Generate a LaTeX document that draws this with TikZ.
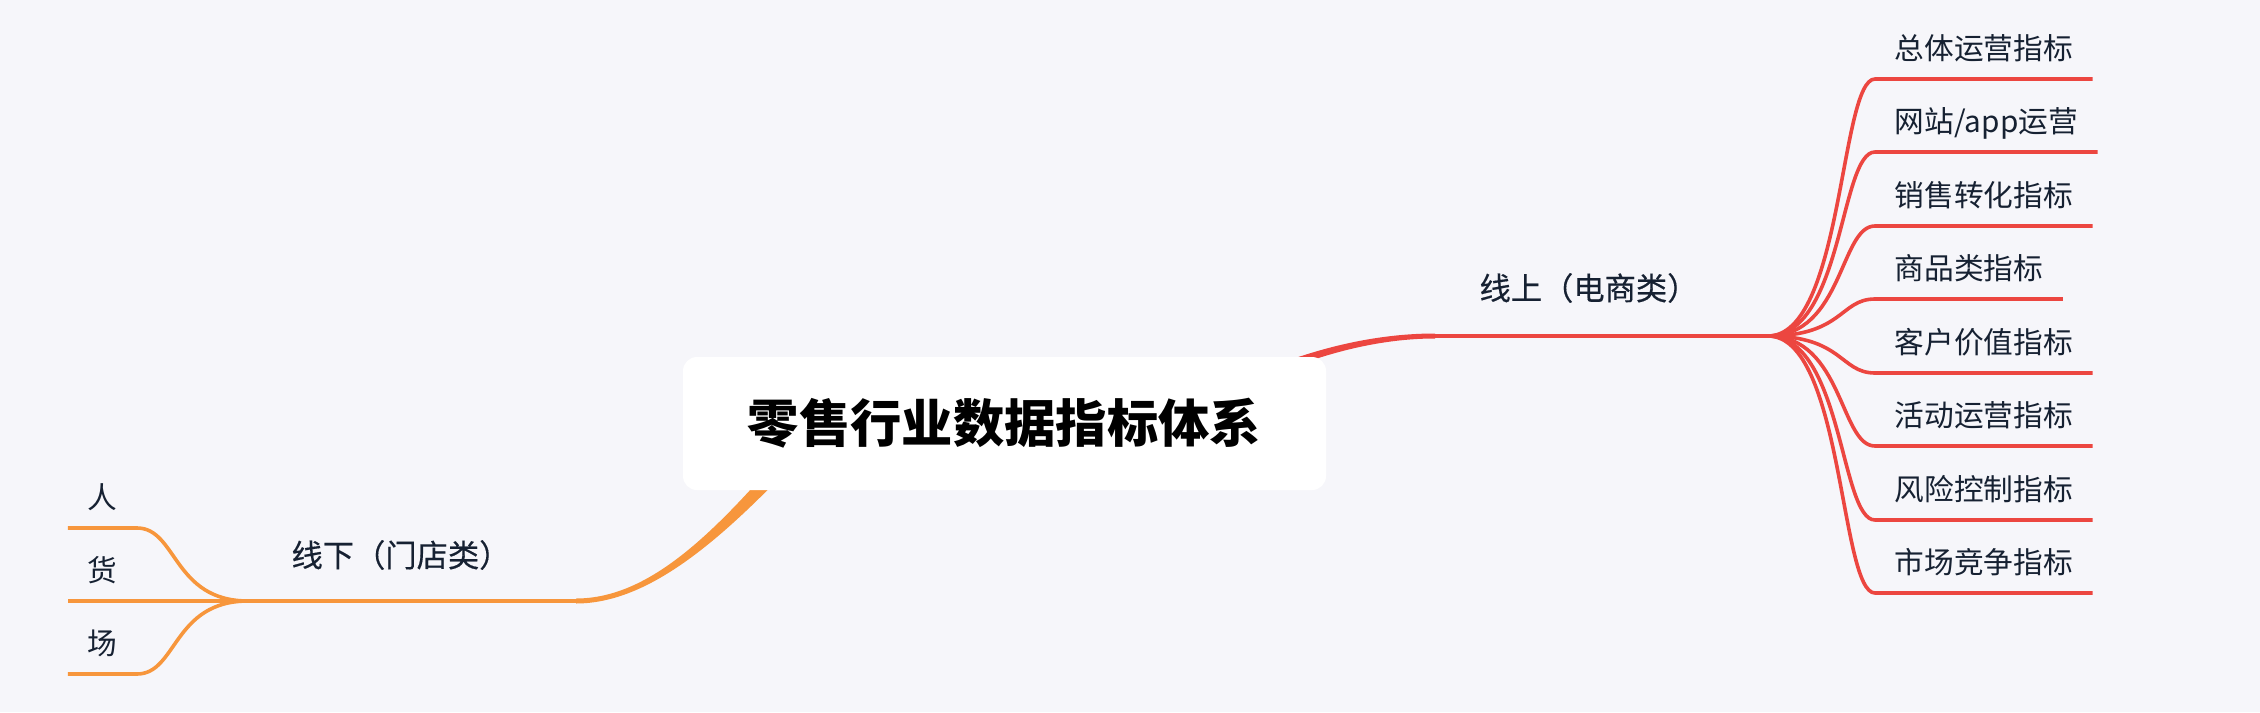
\documentclass[tikz,border=0pt]{standalone}
\usepackage{fontspec}
\newfontfamily\cjk{Noto Sans CJK SC}
\newfontfamily\cjkmid[FakeBold=0.4]{Noto Sans CJK SC}

\definecolor{bg}{RGB}{246,246,250}
\definecolor{online}{RGB}{236,70,64}
\definecolor{offline}{RGB}{247,150,60}
\definecolor{ink}{RGB}{22,33,50}

\tikzset{
  root/.style={fill=white, rounded corners=1.4mm, minimum width=64.3mm, minimum height=13.3mm,
    font=\cjk\bfseries\fontsize{14.6}{17}\selectfont, text=black},
  branch/.style={font=\cjkmid\fontsize{8.9}{11}\selectfont, text=ink},
  leaf/.style={font=\cjk\fontsize{8.45}{10}\selectfont, text=ink, inner xsep=1.9mm, inner ysep=1.9mm, text depth=0pt},
  onleaf/.style={draw=online, line width=0.36mm},
  offleaf/.style={draw=offline, line width=0.36mm},
}

\begin{document}
\begin{tikzpicture}[x=0.1mm,y=-0.1mm]
   \fill[bg] (0,0) rectangle (2260,712);
   \useasboundingbox (0,0) rectangle (2260,712);

   \coordinate (onstart) at (1435,336);
   \coordinate (onhub) at (1768,336);
   \coordinate (offstart) at (576,601);
   \coordinate (offhub) at (248,601);

   \node[branch] (on) at (1589,288) {线上（电商类）};
   \node[branch] (off) at (401,555) {线下（门店类）};

   \node[leaf,anchor=south west] (t1) at (1875,79)  {总体运营指标};
   \node[leaf,anchor=south west] (t2) at (1875,152) {网站/app运营};
   \node[leaf,anchor=south west] (t3) at (1875,226) {销售转化指标};
   \node[leaf,anchor=south west] (t4) at (1875,299) {商品类指标};
   \node[leaf,anchor=south west] (t5) at (1875,373) {客户价值指标};
   \node[leaf,anchor=south west] (t6) at (1875,446) {活动运营指标};
   \node[leaf,anchor=south west] (t7) at (1875,520) {风险控制指标};
   \node[leaf,anchor=south west] (t8) at (1875,593) {市场竞争指标};

   \node[leaf,anchor=south east] (s1) at (137,528) {人};
   \node[leaf,anchor=south east] (s2) at (137,601) {货};
   \node[leaf,anchor=south east] (s3) at (137,674) {场};

   \fill[online] (1230,385) .. controls (1300,351) and (1370,333.5) .. (1435,333.5)
      -- (1435,338.5) .. controls (1370,338.5) and (1300,359) .. (1230,395) -- cycle;
   \draw[online,line width=0.4mm] (onstart) -- (onhub);

   \fill[offline] (576,598.5) .. controls (650,598.5) and (716,532) .. (794,440)
      -- (806,450) .. controls (724,538) and (650,603.5) .. (576,603.5) -- cycle;
   \draw[offline,line width=0.4mm] (offstart) -- (offhub);

   \draw[onleaf] (onhub) .. controls +(75,0) and +(-35,0) .. (t1.south west) -- (t1.south east);
   \draw[onleaf] (onhub) .. controls +(75,0) and +(-35,0) .. (t2.south west) -- (t2.south east);
   \draw[onleaf] (onhub) .. controls +(75,0) and +(-35,0) .. (t3.south west) -- (t3.south east);
   \draw[onleaf] (onhub) .. controls +(75,0) and +(-35,0) .. (t4.south west) -- (t4.south east);
   \draw[onleaf] (onhub) .. controls +(75,0) and +(-35,0) .. (t5.south west) -- (t5.south east);
   \draw[onleaf] (onhub) .. controls +(75,0) and +(-35,0) .. (t6.south west) -- (t6.south east);
   \draw[onleaf] (onhub) .. controls +(75,0) and +(-35,0) .. (t7.south west) -- (t7.south east);
   \draw[onleaf] (onhub) .. controls +(75,0) and +(-35,0) .. (t8.south west) -- (t8.south east);

   \draw[offleaf] (offhub) .. controls +(-75,0) and +(40,0) .. (s1.south east) -- (s1.south west);
   \draw[offleaf] (offhub) .. controls +(-75,0) and +(40,0) .. (s2.south east) -- (s2.south west);
   \draw[offleaf] (offhub) .. controls +(-75,0) and +(40,0) .. (s3.south east) -- (s3.south west);

   \node[root] (rootbox) at (1004.5,423.5) {零售行业数据指标体系};
\end{tikzpicture}
\end{document}
